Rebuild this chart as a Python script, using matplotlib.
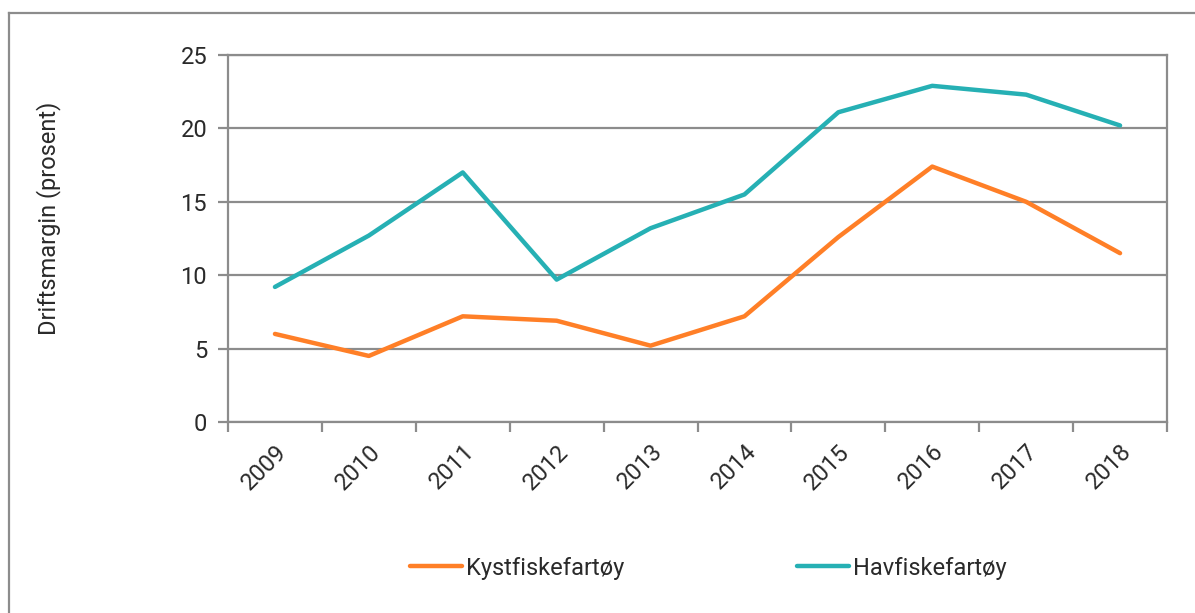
import matplotlib
matplotlib.use("Agg")
import matplotlib.pyplot as plt
from matplotlib.lines import Line2D

years = ["2009", "2010", "2011", "2012", "2013", "2014", "2015", "2016", "2017", "2018"]
kystfiske = [6.0, 4.5, 7.2, 6.9, 5.2, 7.2, 12.6, 17.4, 15.0, 11.5]
havfiske = [9.2, 12.7, 17.0, 9.7, 13.2, 15.5, 21.1, 22.9, 22.3, 20.2]
yticks = [0, 5, 10, 15, 20, 25]

plt.rcParams["font.family"] = ["Roboto", "DejaVu Sans"]

fig = plt.figure(figsize=(11.95, 6.13), dpi=100)
ax = fig.add_axes([228/1195, 1-422/613, (1167-228)/1195, (422-55)/613])

x = list(range(len(years)))
ax.plot(x, kystfiske, color="#FF7F27", lw=3.2, solid_capstyle="round", label="Kystfiskefartøy")
ax.plot(x, havfiske, color="#26B0B4", lw=3.2, solid_capstyle="round", label="Havfiskefartøy")

ax.set_xlim(-0.5, len(years) - 0.5)
ax.set_ylim(0, 25)
ax.set_yticks(yticks)
ax.set_yticklabels([str(v) for v in yticks], fontsize=17, color="#2a2a2a")
ax.yaxis.grid(True, color="#8c8c8c", lw=1.6)
ax.set_axisbelow(True)

ax.set_xticks(x)
ax.set_xticklabels(years, rotation=45, ha="right", rotation_mode="anchor", fontsize=17, color="#2a2a2a")
ax.set_xticks([i - 0.5 for i in range(len(years) + 1)], minor=True)
ax.tick_params(axis="x", which="major", length=0, pad=13)
ax.tick_params(axis="x", which="minor", length=7, width=1.6, color="#8c8c8c", direction="out")
ax.tick_params(axis="y", length=7, width=1.6, color="#8c8c8c", pad=8)
for s in ax.spines.values():
    s.set_color("#8c8c8c")
    s.set_linewidth(1.6)

ax.set_ylabel("Driftsmargin (prosent)", fontsize=17, color="#2a2a2a", labelpad=0)
ax.yaxis.set_label_coords(-0.178, 0.555)

leg = fig.legend(loc="center left", bbox_to_anchor=(410/1195, 1-568/613), ncol=2, frameon=False,
                 fontsize=17, handlelength=2.2, handletextpad=0.17, columnspacing=7.3, borderpad=0,
                 borderaxespad=0)
for t in leg.get_texts():
    t.set_color("#2a2a2a")

fig.add_artist(Line2D([9/1195, 9/1195], [0, 1-13/613], transform=fig.transFigure, color="#8c8c8c", lw=1.6))
fig.add_artist(Line2D([9/1195, 1], [1-13/613, 1-13/613], transform=fig.transFigure, color="#8c8c8c", lw=1.6))

fig.savefig("out.png", dpi=100)
